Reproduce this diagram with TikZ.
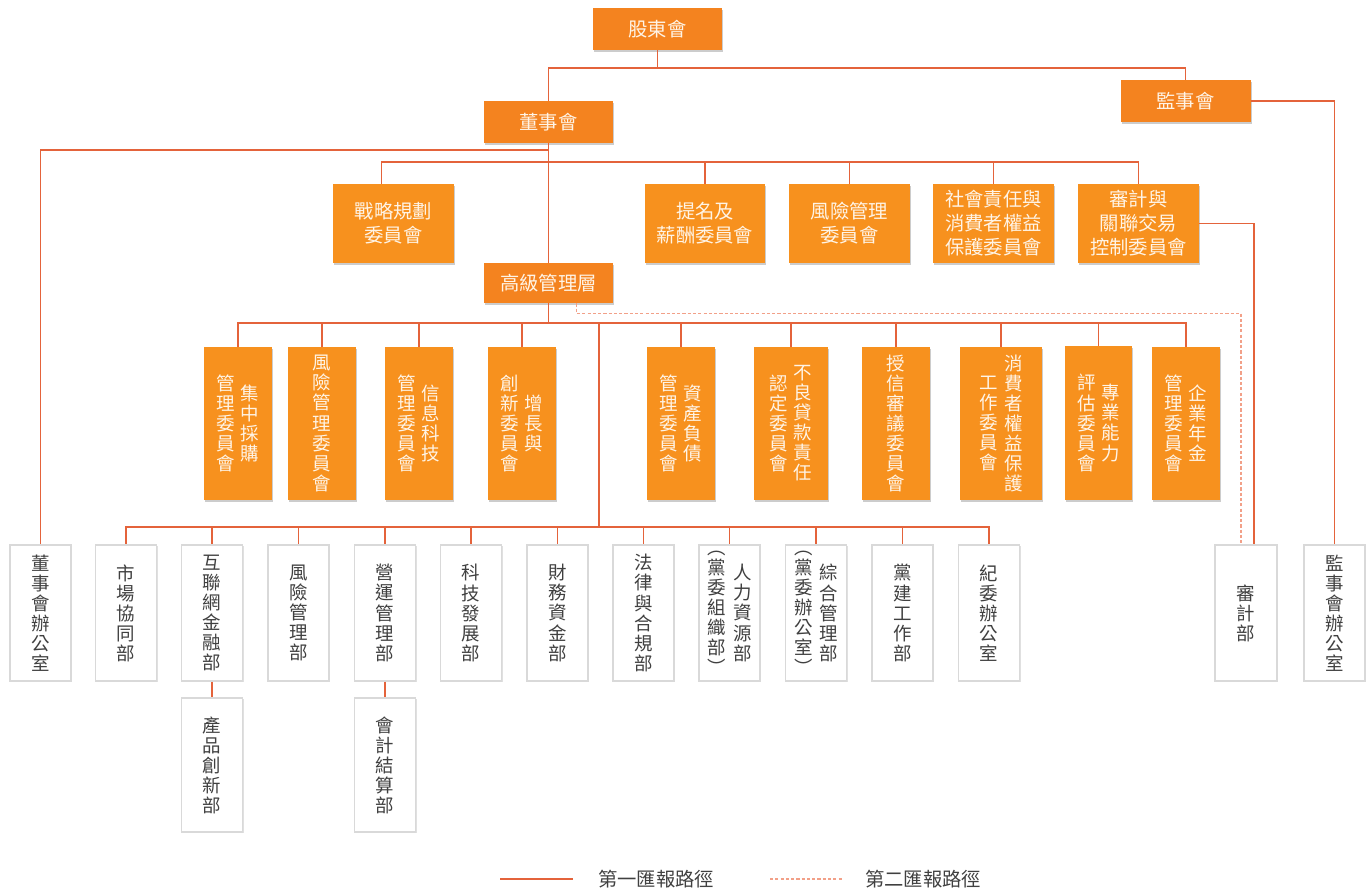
\documentclass[tikz,border=0pt]{standalone}
\usepackage{fontspec}
\setmainfont{Noto Sans CJK TC}
\usetikzlibrary{calc,shadows}
\definecolor{linkc}{HTML}{E4633B}
\definecolor{dashc}{HTML}{F2A088}
\definecolor{topfill}{HTML}{F4831F}
\definecolor{cmfill}{HTML}{F7911E}
\definecolor{boxtext}{HTML}{FFF4E6}
\definecolor{deptline}{HTML}{D9D9D9}
\definecolor{depttext}{HTML}{404040}
\newcommand{\vtext}[1]{$\vcenter{\let\\\cr\baselineskip=11.4pt\lineskip=0pt\lineskiplimit=-20pt\halign{\hfil##\hfil\cr#1\crcr}}$}
\tikzset{
  boxsize/.style 2 args={minimum width=#1*0.02cm, minimum height=#2*0.02cm, inner sep=0pt},
  topbox/.style={fill=topfill, text=boxtext, align=center, font=\fontsize{11}{13.6}\selectfont,
    drop shadow={shadow xshift=0.8pt, shadow yshift=-1.1pt, fill=black!20, opacity=1}},
  cmbox/.style={topbox, fill=cmfill},
  vcm/.style={cmbox, font=\fontsize{10.5}{11.4}\selectfont},
  dept/.style={fill=white, draw=deptline, line width=0.6pt, text=depttext, font=\fontsize{10.5}{11.4}\selectfont,
    drop shadow={shadow xshift=0.6pt, shadow yshift=-0.8pt, fill=black!12, opacity=1}},
  link/.style={draw=linkc, line width=0.6pt},
  second/.style={draw=dashc, line width=0.6pt, dash pattern=on 1.8pt off 1.2pt},
  legend/.style={text=depttext, font=\fontsize{11}{13}\selectfont}
}
\begin{document}
\begin{tikzpicture}[x=0.02cm,y=-0.02cm]
\useasboundingbox (0,0) rectangle (1370,891);
\node[topbox,boxsize={129}{42}] (shareholders) at (657.5,29) {股東會};
\node[topbox,boxsize={130}{42}] (supervisors) at (1185.5,101) {監事會};
\node[topbox,boxsize={129}{42}] (board) at (548.5,122) {董事會};
\node[topbox,boxsize={129}{40}] (senior) at (548.5,283) {高級管理層};

\node[cmbox,boxsize={121}{79}] (c-strategy) at (393.5,223.5) {戰略規劃\\委員會};
\node[cmbox,boxsize={120}{79}] (c-nomination) at (705,223.5) {提名及\\薪酬委員會};
\node[cmbox,boxsize={121}{79}] (c-risk) at (849.5,223.5) {風險管理\\委員會};
\node[cmbox,boxsize={121}{79}] (c-csr) at (993.5,223.5) {社會責任與\\消費者權益\\保護委員會};
\node[cmbox,boxsize={121}{79}] (c-audit) at (1138.5,223.5) {審計與\\關聯交易\\控制委員會};

\node[vcm,boxsize={68}{153}] (s-purchase) at (238,423.5) {\vtext{管\\理\\委\\員\\會}\hspace{3pt}\vtext{集\\中\\採\\購}};
\node[vcm,boxsize={68}{153}] (s-risk) at (322,423.5) {\vtext{風\\險\\管\\理\\委\\員\\會}};
\node[vcm,boxsize={68}{153}] (s-it) at (419,423.5) {\vtext{管\\理\\委\\員\\會}\hspace{3pt}\vtext{信\\息\\科\\技}};
\node[vcm,boxsize={68}{153}] (s-growth) at (522,423.5) {\vtext{創\\新\\委\\員\\會}\hspace{3pt}\vtext{增\\長\\與}};
\node[vcm,boxsize={68}{153}] (s-alm) at (681,423.5) {\vtext{管\\理\\委\\員\\會}\hspace{3pt}\vtext{資\\產\\負\\債}};
\node[vcm,boxsize={74}{153}] (s-npl) at (791,423.5) {\vtext{認\\定\\委\\員\\會}\hspace{3pt}\vtext{不\\良\\貸\\款\\責\\任}};
\node[vcm,boxsize={68}{153}] (s-credit) at (896,423.5) {\vtext{授\\信\\審\\議\\委\\員\\會}};
\node[vcm,boxsize={82}{153}] (s-consumer) at (1001,423.5) {\vtext{工\\作\\委\\員\\會}\hspace{4pt}\vtext{消\\費\\者\\權\\益\\保\\護}};
\node[vcm,boxsize={67}{154}] (s-expert) at (1098.5,423) {\vtext{評\\估\\委\\員\\會}\hspace{3pt}\vtext{專\\業\\能\\力}};
\node[vcm,boxsize={68}{153}] (s-pension) at (1186,423.5) {\vtext{管\\理\\委\\員\\會}\hspace{3pt}\vtext{企\\業\\年\\金}};

\node[dept,boxsize={61}{136}] (d-boardoffice) at (40.5,613) {\vtext{董\\事\\會\\辦\\公\\室}};
\node[dept,boxsize={61}{136}] (d-market) at (126,613) {\vtext{市\\場\\協\\同\\部}};
\node[dept,boxsize={61}{136}] (d-internet) at (212,613) {\vtext{互\\聯\\網\\金\\融\\部}};
\node[dept,boxsize={61}{136}] (d-risk) at (298.5,613) {\vtext{風\\險\\管\\理\\部}};
\node[dept,boxsize={61}{136}] (d-ops) at (385,613) {\vtext{營\\運\\管\\理\\部}};
\node[dept,boxsize={61}{136}] (d-tech) at (471,613) {\vtext{科\\技\\發\\展\\部}};
\node[dept,boxsize={61}{136}] (d-finance) at (557.5,613) {\vtext{財\\務\\資\\金\\部}};
\node[dept,boxsize={61}{136}] (d-legal) at (643.5,613) {\vtext{法\\律\\與\\合\\規\\部}};
\node[dept,boxsize={61}{136}] (d-hr) at (729.5,613) {\vtext{︵\\黨\\委\\組\\織\\部\\︶}\hspace{4pt}\vtext{人\\力\\資\\源\\部}};
\node[dept,boxsize={61}{136}] (d-admin) at (816,613) {\vtext{︵\\黨\\委\\辦\\公\\室\\︶}\hspace{4pt}\vtext{綜\\合\\管\\理\\部}};
\node[dept,boxsize={61}{136}] (d-party) at (902.5,613) {\vtext{黨\\建\\工\\作\\部}};
\node[dept,boxsize={61}{136}] (d-discipline) at (989,613) {\vtext{紀\\委\\辦\\公\\室}};
\node[dept,boxsize={62}{136}] (d-audit) at (1246,613) {\vtext{審\\計\\部}};
\node[dept,boxsize={61}{136}] (d-supoffice) at (1334.5,613) {\vtext{監\\事\\會\\辦\\公\\室}};
\node[dept,boxsize={61}{134}] (d-product) at (212,765) {\vtext{產\\品\\創\\新\\部}};
\node[dept,boxsize={61}{134}] (d-accounting) at (385,765) {\vtext{會\\計\\結\\算\\部}};

\coordinate (topbus) at (657.5,68);
\draw[link] (shareholders.south) -- (topbus);
\draw[link] (topbus) -| (board.north);
\draw[link] (topbus) -| (supervisors.north);
\draw[link] (board.south) -- (senior.north);
\coordinate (offbus) at (548.5,150);
\draw[link] (offbus) -| (d-boardoffice.north);
\coordinate (cmbus) at (548.5,162);
\draw[link] (cmbus) -| ($(c-strategy.north)+(-12,0)$);
\foreach \n in {c-nomination,c-risk,c-csr,c-audit}
  \draw[link] (cmbus) -| (\n.north);
\draw[link] (supervisors.east) -| (d-supoffice.north);
\draw[link] (c-audit.east) -| ($(d-audit.north)+(8,0)$);

\coordinate (scbus) at (548.5,323);
\draw[link] (senior.south) -- (scbus);
\foreach \n in {s-purchase,s-risk,s-it,s-growth,s-alm,s-npl,s-credit,s-consumer,s-expert,s-pension}
  \draw[link] (scbus) -| (\n.north);
\coordinate (dsplit) at (599,323);
\coordinate (dbus) at (599,527);
\draw[link] (dsplit) -- (dbus);
\foreach \n in {d-market,d-internet,d-risk,d-ops,d-tech,d-finance,d-legal,d-hr,d-admin,d-party,d-discipline}
  \draw[link] (dbus) -| (\n.north);
\draw[link] (d-internet.south) -- (d-product.north);
\draw[link] (d-ops.south) -- (d-accounting.north);
\draw[second] ($(senior.south)+(28,0)$) -- ++(0,10) -| ($(d-audit.north)+(-5,0)$);

\coordinate (lg1a) at (500,879);
\coordinate (lg1b) at (573,879);
\draw[link] (lg1a) -- (lg1b);
\node[legend] (lg1) at (656,879) {第一匯報路徑};
\coordinate (lg2a) at (770,879);
\coordinate (lg2b) at (843,879);
\draw[second] (lg2a) -- (lg2b);
\node[legend] (lg2) at (923,879) {第二匯報路徑};
\end{tikzpicture}
\end{document}
